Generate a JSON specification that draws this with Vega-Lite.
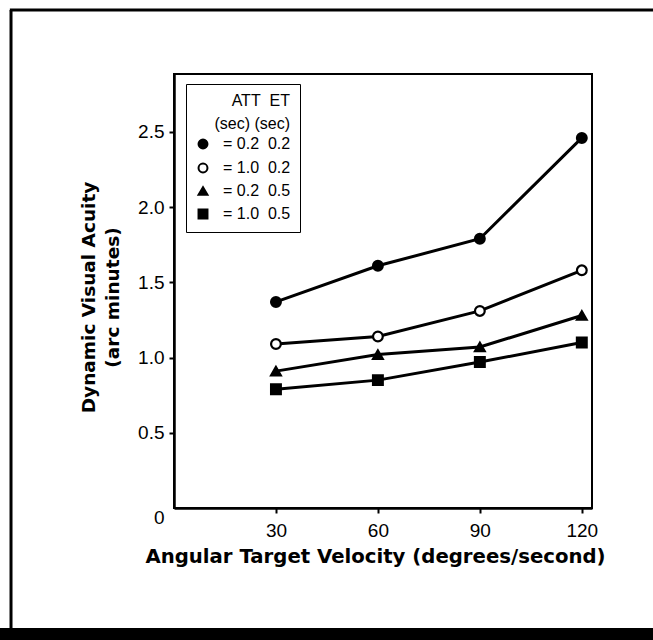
{
  "$schema": "https://vega.github.io/schema/vega-lite/v6.json",
  "width": 418,
  "height": 434,
  "autosize": {"type": "none"},
  "padding": {"left": 174, "top": 74, "right": 61, "bottom": 132},
  "background": "white",
  "config": {
    "view": {"stroke": "black", "strokeWidth": 2},
    "font": "Liberation Sans",
    "legend": {
      "orient": "none", "legendX": 12, "legendY": 10,
      "titleFont": "Liberation Sans", "titleFontSize": 16, "titleFontWeight": "normal",
      "titleColor": "black", "titleAlign": "right", "titleAnchor": "end",
      "titleLineHeight": 23, "titlePadding": 4,
      "labelFont": "Liberation Sans", "labelFontSize": 16, "labelColor": "black",
      "labelOffset": 12, "symbolStrokeWidth": 2,
      "symbolSize": 80, "rowPadding": 6, "padding": 9,
      "strokeColor": "black", "fillColor": "white"
    }
  },
  "datasets": {
    "obs": [
      {"cond": "=\u00a00.2\u00a0\u00a00.2", "att": 0.2, "et": 0.2, "velocity": 30, "dva": 1.37},
      {"cond": "=\u00a00.2\u00a0\u00a00.2", "att": 0.2, "et": 0.2, "velocity": 60, "dva": 1.61},
      {"cond": "=\u00a00.2\u00a0\u00a00.2", "att": 0.2, "et": 0.2, "velocity": 90, "dva": 1.79},
      {"cond": "=\u00a00.2\u00a0\u00a00.2", "att": 0.2, "et": 0.2, "velocity": 120, "dva": 2.46},
      {"cond": "=\u00a01.0\u00a0\u00a00.2", "att": 1.0, "et": 0.2, "velocity": 30, "dva": 1.09},
      {"cond": "=\u00a01.0\u00a0\u00a00.2", "att": 1.0, "et": 0.2, "velocity": 60, "dva": 1.14},
      {"cond": "=\u00a01.0\u00a0\u00a00.2", "att": 1.0, "et": 0.2, "velocity": 90, "dva": 1.31},
      {"cond": "=\u00a01.0\u00a0\u00a00.2", "att": 1.0, "et": 0.2, "velocity": 120, "dva": 1.58},
      {"cond": "=\u00a00.2\u00a0\u00a00.5", "att": 0.2, "et": 0.5, "velocity": 30, "dva": 0.91},
      {"cond": "=\u00a00.2\u00a0\u00a00.5", "att": 0.2, "et": 0.5, "velocity": 60, "dva": 1.02},
      {"cond": "=\u00a00.2\u00a0\u00a00.5", "att": 0.2, "et": 0.5, "velocity": 90, "dva": 1.07},
      {"cond": "=\u00a00.2\u00a0\u00a00.5", "att": 0.2, "et": 0.5, "velocity": 120, "dva": 1.28},
      {"cond": "=\u00a01.0\u00a0\u00a00.5", "att": 1.0, "et": 0.5, "velocity": 30, "dva": 0.79},
      {"cond": "=\u00a01.0\u00a0\u00a00.5", "att": 1.0, "et": 0.5, "velocity": 60, "dva": 0.85},
      {"cond": "=\u00a01.0\u00a0\u00a00.5", "att": 1.0, "et": 0.5, "velocity": 90, "dva": 0.97},
      {"cond": "=\u00a01.0\u00a0\u00a00.5", "att": 1.0, "et": 0.5, "velocity": 120, "dva": 1.10}
    ]
  },
  "layer": [
    {
      "data": {"values": [{}]},
      "mark": {"type": "rule", "color": "black", "strokeWidth": 3, "clip": false},
      "encoding": {
        "x": {"datum": -47.96, "type": "quantitative", "scale": {"domain": [0, 123]}},
        "y": {"datum": 3.3105, "type": "quantitative", "scale": {"domain": [0, 2.885]}},
        "y2": {"datum": -0.7977}
      }
    },
    {
      "data": {"values": [{}]},
      "mark": {"type": "rule", "color": "black", "strokeWidth": 3, "clip": false},
      "encoding": {
        "x": {"datum": -48.3, "type": "quantitative", "scale": {"domain": [0, 123]}},
        "x2": {"datum": 145},
        "y": {"datum": 3.3105, "type": "quantitative", "scale": {"domain": [0, 2.885]}}
      }
    },
    {
      "data": {"values": [{}]},
      "mark": {"type": "rule", "color": "black", "strokeWidth": 12, "clip": false},
      "encoding": {
        "x": {"datum": -52, "type": "quantitative", "scale": {"domain": [0, 123]}},
        "x2": {"datum": 145},
        "y": {"datum": -0.8376, "type": "quantitative", "scale": {"domain": [0, 2.885]}}
      }
    },
    {
      "data": {"name": "obs"},
      "mark": {"type": "line", "color": "black", "strokeWidth": 3},
      "encoding": {
        "x": {
          "field": "velocity", "type": "quantitative",
          "scale": {"domain": [0, 123]},
          "axis": {
            "values": [30, 60, 90, 120],
            "title": "Angular Target Velocity (degrees/second)",
            "titleFont": "DejaVu Sans", "titleFontWeight": "bold", "titleFontSize": 19.7,
            "titleColor": "black", "titlePadding": 6, "titleX": 201, "titleAlign": "center",
            "labelFont": "Liberation Sans", "labelFontSize": 19, "labelColor": "black",
            "labelPadding": 8, "tickSize": 5, "tickWidth": 2, "tickColor": "black",
            "domainColor": "black", "domainWidth": 2.5, "grid": false
          }
        },
        "y": {
          "field": "dva", "type": "quantitative",
          "scale": {"domain": [0, 2.885]},
          "axis": {
            "values": [0, 0.5, 1, 1.5, 2, 2.5],
            "labelExpr": "datum.value == 0 ? '0' : format(datum.value, '.1f')",
            "title": ["Dynamic Visual Acuity", "(arc minutes)"],
            "titleFont": "DejaVu Sans", "titleFontWeight": "bold", "titleFontSize": 18.5,
            "titleColor": "black", "titlePadding": 15, "titleLineHeight": 24, "titleY": 223,
            "labelFont": "Liberation Sans", "labelFontSize": 19, "labelColor": "black",
            "labelPadding": 5, "tickSize": 5, "tickWidth": 2, "tickColor": "black",
            "labelBaseline": {"condition": {"test": "datum.value == 0", "value": "top"}, "value": "middle"},
            "tickOpacity": {"condition": {"test": "datum.value == 0", "value": 0}, "value": 1},
            "domainColor": "black", "domainWidth": 2.5, "grid": false
          }
        },
        "detail": {"field": "cond", "type": "nominal"}
      }
    },
    {
      "data": {"name": "obs"},
      "mark": {"type": "point", "filled": true, "strokeWidth": 2.2, "size": 95, "opacity": 1},
      "encoding": {
        "x": {"field": "velocity", "type": "quantitative", "scale": {"domain": [0, 123]}},
        "y": {"field": "dva", "type": "quantitative", "scale": {"domain": [0, 2.885]}},
        "shape": {
          "field": "cond", "type": "nominal",
          "scale": {
            "domain": ["=\u00a00.2\u00a0\u00a00.2", "=\u00a01.0\u00a0\u00a00.2", "=\u00a00.2\u00a0\u00a00.5", "=\u00a01.0\u00a0\u00a00.5"],
            "range": ["circle", "circle", "triangle-up", "square"]
          },
          "legend": {"title": ["ATT\u00a0\u00a0ET", "(sec)\u00a0(sec)"]}
        },
        "fill": {
          "field": "cond", "type": "nominal",
          "scale": {
            "domain": ["=\u00a00.2\u00a0\u00a00.2", "=\u00a01.0\u00a0\u00a00.2", "=\u00a00.2\u00a0\u00a00.5", "=\u00a01.0\u00a0\u00a00.5"],
            "range": ["black", "white", "black", "black"]
          },
          "legend": {"title": ["ATT\u00a0\u00a0ET", "(sec)\u00a0(sec)"]}
        },
        "stroke": {
          "field": "cond", "type": "nominal",
          "scale": {
            "domain": ["=\u00a00.2\u00a0\u00a00.2", "=\u00a01.0\u00a0\u00a00.2", "=\u00a00.2\u00a0\u00a00.5", "=\u00a01.0\u00a0\u00a00.5"],
            "range": ["black", "black", "black", "black"]
          },
          "legend": {"title": ["ATT\u00a0\u00a0ET", "(sec)\u00a0(sec)"]}
        }
      }
    }
  ]
}
